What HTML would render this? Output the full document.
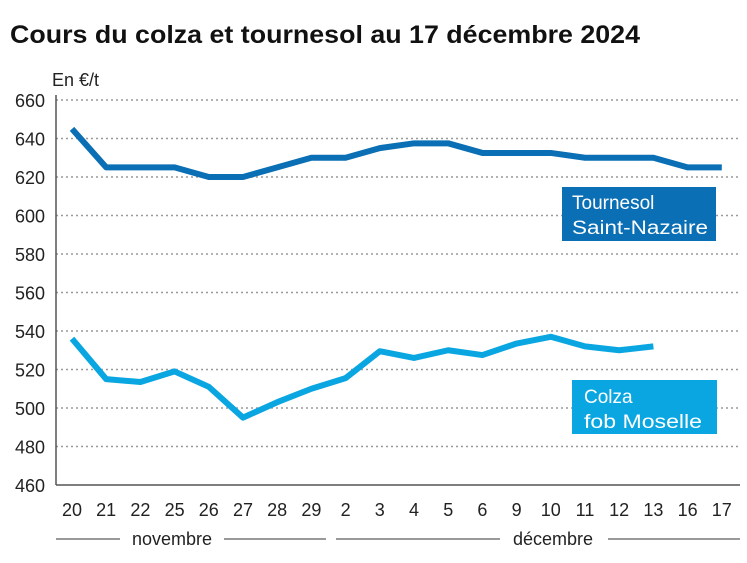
<!DOCTYPE html>
<html><head><meta charset="utf-8"><style>
body{margin:0;background:#fff;font-family:"Liberation Sans",sans-serif;}
svg text{font-family:"Liberation Sans",sans-serif;}
</style></head><body>
<svg width="747" height="558">
<text x="10" y="43" font-size="25" font-weight="bold" fill="#111" textLength="630" lengthAdjust="spacingAndGlyphs">Cours du colza et tournesol au 17 décembre 2024</text>
<text x="52" y="86" font-size="18" fill="#222">En €/t</text>
<g id="grid"></g><g id="ylab"></g><g id="xlab"></g><g id="lines"></g>
<line x1="56" y1="95" x2="56" y2="485" stroke="#555" stroke-width="1.5"/>
<line x1="56" y1="485" x2="740" y2="485" stroke="#555" stroke-width="1.5"/>
<g>
<line x1="56" y1="539" x2="120" y2="539" stroke="#333"/><line x1="224" y1="539" x2="326" y2="539" stroke="#333"/>
<text x="172" y="545" font-size="18" text-anchor="middle" fill="#222">novembre</text></g>
<g>
<line x1="336" y1="539" x2="500" y2="539" stroke="#333"/><line x1="608" y1="539" x2="740" y2="539" stroke="#333"/>
<text x="553" y="545" font-size="18" text-anchor="middle" fill="#222">décembre</text></g>
<g>
<rect x="562" y="187" width="154" height="54" fill="#0a6fb4"/>
<text x="572" y="209" font-size="19" fill="#fff">Tournesol</text><text x="572" y="234" font-size="19" fill="#fff" textLength="136" lengthAdjust="spacingAndGlyphs">Saint-Nazaire</text></g>
<g>
<rect x="572" y="380" width="145" height="54" fill="#0aa6e1"/>
<text x="584" y="403" font-size="19" fill="#fff">Colza</text><text x="584" y="428" font-size="19" fill="#fff" textLength="118" lengthAdjust="spacingAndGlyphs">fob Moselle</text></g>
</svg>
<script>
const categories=["20","21","22","25","26","27","28","29","2","3","4","5","6","9","10","11","12","13","16","17"];
const tournesol=[645,625,625,625,620,620,625,630,630,635,637.5,637.5,632.5,632.5,632.5,630,630,630,625,625];
const colza=[536,515,513.5,519,511,495,503,510,515.5,529.5,526,530,527.5,533.5,537,532,530,532];
const yTicks=[460,480,500,520,540,560,580,600,620,640,660];
const NS="http://www.w3.org/2000/svg";
function x(i){return 72+i*34.2;}
function y(v){return 485-(v-460)*1.925;}
function mk(t,a,p){const e=document.createElementNS(NS,t);for(const k in a)e.setAttribute(k,a[k]);p.appendChild(e);return e;}
const g=document.getElementById('grid'),yl=document.getElementById('ylab'),xl=document.getElementById('xlab'),ln=document.getElementById('lines');
yTicks.forEach(v=>{
 if(v>460){const l=mk('line',{x1:56,x2:740,y1:y(v),y2:y(v),stroke:'#999','stroke-width':1.5,'stroke-dasharray':'2,3'},g);
 
 }
 const t=mk('text',{x:45,y:y(v)+7,'font-size':18,'text-anchor':'end',fill:'#222'},yl);t.textContent=v;
 
 
});
categories.forEach((c,i)=>{const t=mk('text',{x:x(i),y:516,'font-size':18,'text-anchor':'middle',fill:'#222'},xl);t.textContent=c;
 
 });
function line(d,col,name){const p=mk('polyline',{points:d.map((v,i)=>x(i)+','+y(v)).join(' '),fill:'none',stroke:col,'stroke-width':6,'stroke-linejoin':'round'},ln);
 
 }
line(tournesol,'#0a6fb4','tournesol-line');
line(colza,'#0aa6e1','colza-line');
</script>
</body></html>
